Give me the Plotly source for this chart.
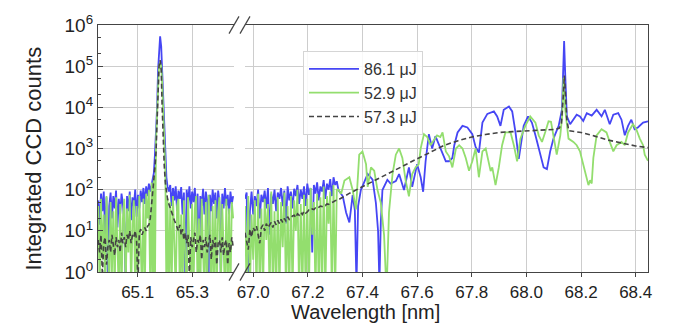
import plotly.graph_objects as go

# ---------------- data ----------------
series_names = ["86.1 μJ", "52.9 μJ", "57.3 μJ"]

# left panel wavelength grid [nm]
left_wl = [64.956, 64.961, 64.966, 64.971, 64.976, 64.981, 64.986, 64.991, 64.996, 65.001,
           65.006, 65.011, 65.016, 65.021, 65.026, 65.031, 65.036, 65.041, 65.046, 65.051,
           65.056, 65.061, 65.066, 65.071, 65.076, 65.081, 65.086, 65.091, 65.096, 65.101,
           65.106, 65.111, 65.116, 65.121, 65.126, 65.131, 65.136, 65.141, 65.146, 65.151,
           65.155, 65.159, 65.163, 65.167, 65.171, 65.1745, 65.178, 65.182, 65.186, 65.1895,
           65.193, 65.197, 65.201, 65.205, 65.209,
           65.214, 65.219, 65.224, 65.229, 65.234, 65.239, 65.244, 65.249, 65.254, 65.259,
           65.264, 65.269, 65.274, 65.279, 65.284, 65.289, 65.294, 65.299, 65.304, 65.309,
           65.314, 65.319, 65.324, 65.329, 65.334, 65.339, 65.344, 65.349, 65.354, 65.359,
           65.364, 65.369, 65.374, 65.379, 65.384, 65.389, 65.394, 65.399, 65.404, 65.409,
           65.414, 65.419, 65.424, 65.429, 65.434, 65.439, 65.444, 65.449]

left_blue = [55, 14, 80, 30, 90, 8, 65, 0.5, 40, 85,
             20, 70, 35, 95, 12, 60, 25, 80, 45, 15,
             0.5, 70, 30, 90, 18, 65, 40, 100, 22, 75,
             35, 95, 50, 110, 45, 120, 70, 140, 90, 130,
             160, 250, 700, 2500, 10000, 80000, 300000, 530000, 300000, 80000,
             10000, 2500, 500, 200, 120,
             90, 130, 40, 110, 55, 120, 30, 95, 60, 115,
             25, 85, 0.5, 100, 45, 120, 35, 90, 50, 110,
             20, 80, 0.5, 70, 40, 105, 25, 90, 55, 0.5,
             75, 30, 100, 45, 85, 20, 95, 50, 0.5, 80,
             35, 110, 40, 75, 25, 90, 45, 70]

left_green = [40, 0.3, 60, 2, 25, 0.3, 70, 5, 0.3, 50,
              1, 30, 0.3, 65, 8, 0.3, 45, 0.3, 20, 60,
              0.3, 35, 3, 75, 0.3, 15, 55, 0.3, 40, 0.3,
              70, 10, 0.3, 60, 0.3, 80, 20, 100, 0.3, 150,
              0.3, 200, 0.3, 1500, 8000, 40000, 100000, 120000, 100000, 40000,
              8000, 1500, 300, 0.3, 60,
              0.3, 50, 0.3, 70, 5, 0.3, 40, 60, 0.3, 25,
              0.3, 55, 2, 0.3, 65, 10, 0.3, 45, 0.3, 35,
              70, 0.3, 20, 0.3, 60, 3, 0.3, 50, 0.3, 75,
              15, 0.3, 40, 0.3, 55, 0.3, 30, 65, 0.3, 45,
              5, 0.3, 60, 0.3, 35, 0.3, 50, 20]

left_dash = [6, 3, 8, 0.8, 5, 7, 1.5, 4, 6, 3,
             8, 5, 2.5, 7, 4, 6, 3, 9, 5, 7,
             4, 8, 6, 10, 5, 8, 7, 10, 6, 0.5,
             9, 11, 8, 10, 12, 10, 13, 14, 20, 45,
             80, 140, 350, 800, 6000, 30000, 100000, 140000, 80000, 10000,
             1000, 400, 150, 90, 60,
             45, 35, 28, 22, 18, 15, 12, 10, 14, 8,
             11, 6, 9, 5, 8, 0.8, 7, 4, 6, 9,
             3, 6, 5, 8, 2, 6, 4, 7, 3, 5,
             8, 2, 6, 4, 7, 1.5, 5, 6, 3, 7,
             2.5, 5, 6, 1.5, 5, 3, 7, 4]

# right panel, noisy part (shared grid)
noisy_wl = [66.970, 66.976, 66.982, 66.988, 66.994, 67.000, 67.006, 67.012, 67.018, 67.024,
            67.030, 67.036, 67.042, 67.048, 67.054, 67.060, 67.066, 67.072, 67.078, 67.084,
            67.090, 67.096, 67.102, 67.108, 67.114, 67.120, 67.126, 67.132, 67.138, 67.144,
            67.150, 67.156, 67.162, 67.168, 67.174, 67.180, 67.186, 67.192, 67.198, 67.204,
            67.210, 67.216, 67.222, 67.228, 67.234, 67.240, 67.246, 67.252, 67.258, 67.264,
            67.270, 67.276, 67.282, 67.288, 67.294, 67.300, 67.306]

noisy_blue = [60, 85, 0.5, 30, 90, 25, 70, 40, 100, 20,
              75, 50, 95, 35, 110, 8, 80, 45, 100, 30,
              85, 60, 110, 40, 95, 15, 120, 55, 90, 35,
              105, 70, 130, 45, 100, 60, 120, 40, 140, 75,
              110, 3, 130, 80, 150, 55, 120, 90, 170, 60,
              140, 100, 180, 70, 200, 130, 160]

noisy_green = [40, 0.3, 70, 0.3, 25, 2, 55, 0.3, 80, 0.3,
               35, 0.3, 60, 6, 45, 0.3, 90, 0.3, 30, 0.3,
               65, 0.3, 50, 4, 85, 0.3, 40, 0.3, 70, 0.3,
               55, 10, 100, 0.3, 45, 0.3, 75, 0.3, 60, 0.3,
               110, 8, 50, 0.3, 80, 0.3, 65, 0.3, 120, 0.3,
               70, 15, 90, 0.3, 130, 0.3, 100]

noisy_dash = [9, 6, 3.5, 11, 7, 12, 10, 13, 8, 5,
              12, 14, 10, 15, 12, 14, 16, 12, 17, 14,
              18, 15, 19, 16, 20, 17, 22, 19, 21, 23,
              24, 21, 26, 24, 28, 25, 30, 27, 29, 32,
              31, 34, 33, 36, 35, 38, 40, 39, 42, 41,
              45, 44, 47, 49, 51, 54, 56]

# right panel, smoother part
blue_wl = [67.312, 67.328, 67.340, 67.352, 67.364, 67.372, 67.378, 67.384, 67.394, 67.419,
           67.437, 67.449, 67.457, 67.462, 67.467, 67.473, 67.491, 67.503, 67.522, 67.534,
           67.552, 67.570, 67.582, 67.600, 67.613, 67.622, 67.631, 67.643, 67.655, 67.667,
           67.680, 67.693, 67.705, 67.717, 67.729, 67.736, 67.748, 67.766, 67.784, 67.802,
           67.814, 67.826, 67.839, 67.857, 67.881, 67.893, 67.905, 67.917, 67.936, 67.948,
           67.960, 67.972, 67.990, 68.006, 68.020, 68.033, 68.045, 68.063, 68.075, 68.087,
           68.099, 68.118, 68.130, 68.134, 68.138, 68.142, 68.148, 68.160, 68.172, 68.184,
           68.196, 68.208, 68.221, 68.239, 68.257, 68.275, 68.287, 68.305, 68.318, 68.336,
           68.348, 68.360, 68.372, 68.384, 68.396, 68.408, 68.427, 68.445]
blue_vals = [98, 69, 28, 16, 74, 32, 0.5, 40, 98, 240,
             174, 48, 10, 0.5, 16, 98, 174, 141, 162, 240,
             98, 347, 117, 417, 200, 89, 490, 2239, 1000, 1995,
             1202, 776, 490, 490, 589, 1202, 2455, 3548, 3236, 2239,
             1096, 794, 4266, 6918, 7943, 6026, 3548, 8710, 10470, 7943,
             2455, 560, 3548, 6026, 4266, 2089, 1000, 347, 316, 851,
             1738, 3548, 8710, 63100, 407000, 63100, 6026, 3890, 5012, 6607,
             6026, 4677, 7244, 6310, 8710, 6026, 8710, 3890, 6607, 7244,
             5012, 2089, 3548, 5012, 2951, 3236, 4266, 4571]

green_wl = [67.312, 67.322, 67.334, 67.352, 67.364, 67.376, 67.388, 67.400, 67.413, 67.419,
            67.431, 67.443, 67.455, 67.467, 67.479, 67.488, 67.497, 67.510, 67.522, 67.534,
            67.546, 67.558, 67.570, 67.582, 67.594, 67.606, 67.613, 67.625, 67.637, 67.649,
            67.661, 67.673, 67.685, 67.693, 67.705, 67.717, 67.729, 67.742, 67.754, 67.766,
            67.778, 67.790, 67.802, 67.814, 67.826, 67.839, 67.851, 67.863, 67.869, 67.875,
            67.881, 67.887, 67.899, 67.911, 67.923, 67.942, 67.954, 67.966, 67.978, 67.996,
            68.014, 68.033, 68.045, 68.057, 68.069, 68.081, 68.090, 68.099, 68.111, 68.124,
            68.131, 68.136, 68.142, 68.154, 68.172, 68.184, 68.196, 68.208, 68.221, 68.227,
            68.233, 68.239, 68.245, 68.257, 68.275, 68.293, 68.305, 68.318, 68.330, 68.348,
            68.360, 68.372, 68.390, 68.402, 68.415, 68.427, 68.433, 68.445]
green_vals = [100, 79, 166, 200, 98, 33, 708, 851, 417, 117,
              347, 288, 98, 48, 8, 0.3, 28, 240, 708, 1000,
              589, 166, 69, 240, 347, 417, 1000, 2239, 1905, 1202,
              1585, 2089, 1905, 2455, 851, 646, 347, 1000, 1202, 1000,
              589, 288, 490, 1000, 200, 851, 1000, 407, 282, 347,
              200, 129, 347, 1202, 2455, 2455, 1202, 490, 1738, 3548,
              6026, 4266, 2089, 1445, 2512, 4571, 4467, 2089, 708, 2089,
              6310, 52480, 8710, 1738, 1445, 1202, 851, 407, 170, 129,
              170, 141, 589, 2089, 2951, 2455, 1445, 851, 1202, 1445,
              1202, 2455, 3890, 2951, 1738, 1202, 708, 501]

dash_wl = [67.312, 67.35, 67.40, 67.45, 67.50, 67.55, 67.60, 67.65, 67.70, 67.75,
           67.80, 67.85, 67.90, 67.95, 68.00, 68.05, 68.10, 68.12, 68.128, 68.134,
           68.139, 68.143, 68.148, 68.155, 68.20, 68.25, 68.30, 68.35, 68.40, 68.445]
dash_vals = [57, 80, 117, 174, 257, 380, 562, 830, 1200, 1550,
             1900, 2190, 2450, 2570, 2700, 2750, 2900, 3100, 4000, 15000,
             59000, 20000, 5000, 2700, 2450, 2000, 1600, 1350, 1150, 1050]

left_ticks = [65.1, 65.3]
right_ticks = [67.0, 67.2, 67.4, 67.6, 67.8, 68.0, 68.2, 68.4]
y_ticks = [1, 10, 100, 1000, 10000, 100000, 1000000]
y_ticktext = ["10<sup>0</sup>", "10<sup>1</sup>", "10<sup>2</sup>", "10<sup>3</sup>",
              "10<sup>4</sup>", "10<sup>5</sup>", "10<sup>6</sup>"]

# ---------------- figure ----------------
W, H = 677, 325
ML, MR, MT, MB = 98, 29, 15, 53
PW, PH = W - ML - MR, H - MT - MB
left_dom = [0, (234 - ML) / PW]
right_dom = [(245 - ML) / PW, 1]

BLUE = "#4646F4"
GREEN = "#93DE6E"
DARK = "#444444"
FONT = "Liberation Sans, Arial, sans-serif"
colors = [BLUE, GREEN, DARK]
dashes = [None, None, "5px,3px"]
widths = [1.8, 1.8, 1.6]

left_series = [left_blue, left_green, left_dash]
right_x = [noisy_wl + blue_wl, noisy_wl + green_wl, noisy_wl + dash_wl]
right_y = [noisy_blue + blue_vals, noisy_green + green_vals, noisy_dash + dash_vals]

fig = go.Figure()
for i, name in enumerate(series_names):
    fig.add_trace(go.Scatter(x=left_wl, y=left_series[i], mode="lines", name=name,
                             legendgroup=name, xaxis="x", yaxis="y",
                             line=dict(color=colors[i], width=widths[i], dash=dashes[i])))
for i, name in enumerate(series_names):
    fig.add_trace(go.Scatter(x=right_x[i], y=right_y[i], mode="lines", name=name,
                             legendgroup=name, showlegend=False, xaxis="x2", yaxis="y2",
                             line=dict(color=colors[i], width=widths[i], dash=dashes[i])))

grid = "#cdcdcd"
common_x = dict(ticks="outside", ticklen=4, tickcolor=DARK, showgrid=True, gridcolor=grid,
                gridwidth=1, showline=True, linecolor=DARK, linewidth=1.2, mirror=True,
                zeroline=False, tickmode="array", tickformat=".1f",
                tickfont=dict(family=FONT, size=17, color="#222"))

fig.update_layout(
    width=W, height=H,
    margin=dict(l=ML, r=MR, t=MT, b=MB),
    paper_bgcolor="white", plot_bgcolor="white",
    font=dict(family=FONT, color="#222"),
    xaxis=dict(domain=left_dom, anchor="y", range=[64.955, 65.452],
               tickvals=left_ticks, **common_x),
    xaxis2=dict(domain=right_dom, anchor="y2", range=[66.97, 68.445],
                tickvals=right_ticks, **common_x),
    yaxis=dict(domain=[0, 1], anchor="x", type="log", range=[0, 6],
               tickmode="array", tickvals=y_ticks, ticktext=y_ticktext,
               ticks="inside", ticklen=5, tickcolor=DARK,
               minor=dict(ticks="inside", ticklen=3, tickcolor=DARK, showgrid=False),
               showgrid=True, gridcolor=grid, showline=True, linecolor=DARK,
               linewidth=1.2, zeroline=False,
               tickfont=dict(family=FONT, size=19, color="#222")),
    yaxis2=dict(domain=[0, 1], anchor="x2", type="log", range=[0, 6], matches="y",
                tickmode="array", tickvals=y_ticks, showticklabels=False, ticks="",
                side="right", showgrid=True, gridcolor=grid, showline=True,
                linecolor=DARK, linewidth=1.2, zeroline=False),
    legend=dict(x=(303 - ML) / PW, y=(MT + PH - 42) / PH, xanchor="left", yanchor="top",
                bgcolor="rgba(255,255,255,0.85)", bordercolor="#d5d5d5", borderwidth=1,
                font=dict(family=FONT, size=16, color="#333"), tracegroupgap=0,
                itemwidth=50),
    showlegend=True,
)

fig.add_annotation(text="Wavelength [nm]", xref="paper", yref="paper",
                   x=(365 - ML) / PW, y=-42 / PH, xanchor="center", yanchor="middle",
                   showarrow=False, font=dict(family=FONT, size=20, color="#222"))
fig.add_annotation(text="Integrated CCD counts", xref="paper", yref="paper",
                   x=(34 - ML) / PW, y=(MT + PH - 154) / PH, xanchor="center",
                   yanchor="middle", textangle=-90, showarrow=False,
                   font=dict(family=FONT, size=22, color="#222"))

# broken-axis marks "//" at the panel edges (top and bottom)
dx, dy = 5 / PW, 9 / PH
for xe in (left_dom[1], right_dom[0]):
    for ye in (0, 1):
        fig.add_shape(type="line", xref="paper", yref="paper",
                      x0=xe - dx, y0=ye - dy, x1=xe + dx, y1=ye + dy,
                      line=dict(color=DARK, width=1.2))

fig.write_html("out.html")
